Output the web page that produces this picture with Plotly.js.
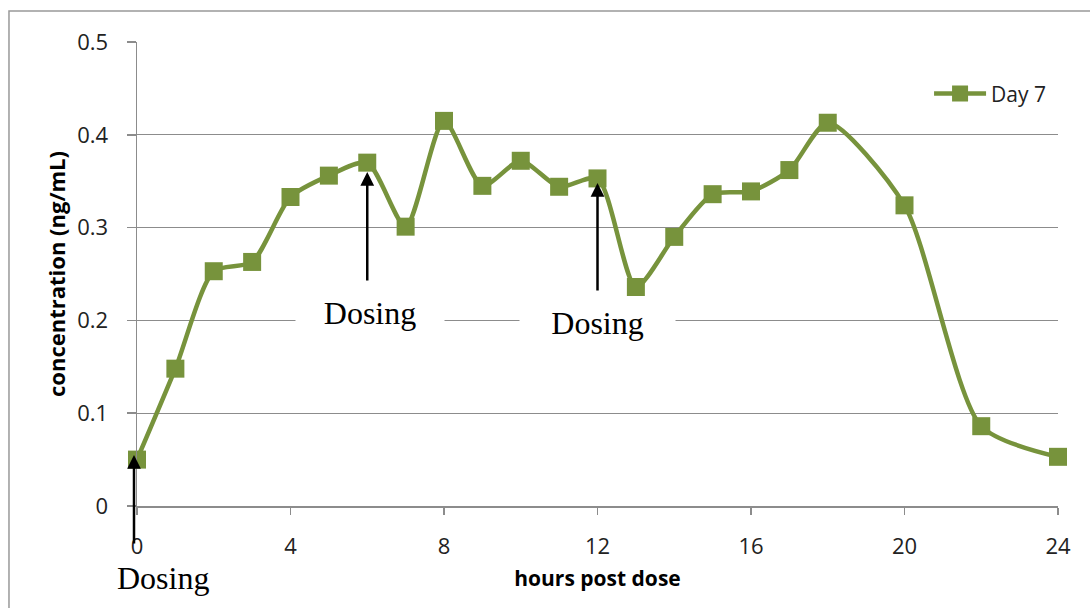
<!DOCTYPE html>
<html>
<head>
<meta charset="utf-8">
<script src="https://cdn.plot.ly/plotly-3.0.1.min.js"></script>
<style>
  html, body { margin: 0; padding: 0; background: #fff; }
  #chart { width: 1090px; height: 608px; }
</style>
</head>
<body>
<div id="chart"></div>
<script>
// Data
const hours = [0, 1, 2, 3, 4, 5, 6, 7, 8, 9, 10, 11, 12, 13, 14, 15, 16, 17, 18, 20, 22, 24];
const day7 = [0.050, 0.148, 0.253, 0.263, 0.333, 0.356, 0.370, 0.301, 0.415, 0.345, 0.372, 0.344,
              0.353, 0.236, 0.290, 0.336, 0.339, 0.362, 0.413, 0.324, 0.086, 0.053];
const seriesName = 'Day 7';
const xTicks = [0, 4, 8, 12, 16, 20, 24];
const yTicks = [0, 0.1, 0.2, 0.3, 0.4, 0.5];
const yTickText = ['0', '0.1', '0.2', '0.3', '0.4', '0.5'];
const dosingHours = [0, 6, 12];
const dosingLabel = 'Dosing';

const green = '#77933C';
const grid = '#8C8C8C';
const tickFont = { family: 'Open Sans, sans-serif', size: 22, color: '#222' };
const titleFont = { family: 'Open Sans, sans-serif', color: '#000', weight: 'bold' };

const trace = {
  x: hours, y: day7, name: seriesName, type: 'scatter', mode: 'lines+markers',
  line: { color: green, width: 4.5, shape: 'spline', smoothing: 0.7 },
  marker: { symbol: 'square', size: 18, color: green },
  cliponaxis: false
};

// Arrow heads sit on the data points; tails drop below (pixels)
const arrowHeadY = [day7[0] + 0.005, day7[hours.indexOf(6)] - 0.01, day7[hours.indexOf(12)] - 0.005];
const arrowTail = [90, 110, 109];

const serifFont = { family: 'Liberation Serif, Times New Roman, serif', size: 32, color: '#000' };
const annotations = [];
dosingHours.forEach((h, i) => {
  annotations.push({
    x: h, y: arrowHeadY[i], xref: 'x', yref: 'y', xshift: i === 0 ? -3 : 0,
    text: '', showarrow: true, arrowhead: 2, arrowsize: 1.1, arrowwidth: 2.5,
    arrowcolor: '#000', ax: 0, ay: arrowTail[i], standoff: 0
  });
});
// first label sits below the x axis, so it is placed in paper coordinates
annotations.push({ x: 0.028, y: -0.155, xref: 'paper', yref: 'paper', xanchor: 'center', yanchor: 'middle',
  text: dosingLabel, showarrow: false, font: serifFont });
annotations.push({ x: 6.07, y: 0.208, xref: 'x', yref: 'y', xanchor: 'center', yanchor: 'middle',
  text: dosingLabel, showarrow: false, font: serifFont, bgcolor: '#fff', width: 148, borderpad: 0 });
annotations.push({ x: 12.01, y: 0.197, xref: 'x', yref: 'y', xanchor: 'center', yanchor: 'middle',
  text: dosingLabel, showarrow: false, font: serifFont, bgcolor: '#fff', width: 155, borderpad: 0 });

const layout = {
  width: 1090, height: 608,
  margin: { l: 137, r: 32, t: 42, b: 102 },
  paper_bgcolor: '#fff', plot_bgcolor: '#fff',
  showlegend: true,
  legend: {
    x: 0.86, y: 0.888, xanchor: 'left', yanchor: 'middle',
    font: { family: 'Open Sans, sans-serif', size: 21, color: '#222' },
    bgcolor: 'rgba(0,0,0,0)', itemwidth: 52
  },
  xaxis: {
    range: [0, 24], tickvals: xTicks, ticktext: xTicks.map(String),
    showgrid: false, zeroline: false, showline: true, linecolor: grid, linewidth: 1.5,
    ticks: 'outside', ticklen: 7, tickcolor: grid, tickwidth: 1.5,
    tickfont: tickFont, ticklabelstandoff: 13,
    title: { text: 'hours post dose', font: Object.assign({ size: 21 }, titleFont), standoff: 12 }
  },
  yaxis: {
    range: [0, 0.5], tickvals: yTicks, ticktext: yTickText,
    showgrid: true, gridcolor: grid, gridwidth: 1.2, zeroline: false,
    showline: true, linecolor: grid, linewidth: 1.5,
    ticks: 'outside', ticklen: 9, tickcolor: grid, tickwidth: 1.5,
    tickfont: tickFont, ticklabelstandoff: 14,
    title: { text: 'concentration (ng/mL)', font: Object.assign({ size: 22 }, titleFont), standoff: 5 }
  },
  shapes: [{
    type: 'rect', xref: 'paper', yref: 'paper',
    x0: -0.139, x1: 1.05, y0: -0.25, y1: 1.0668,
    line: { color: '#999', width: 1.5 }, fillcolor: 'rgba(0,0,0,0)', layer: 'below'
  }],
  annotations: annotations
};

Plotly.newPlot('chart', [trace], layout, { displayModeBar: false, staticPlot: true });
</script>
</body>
</html>
